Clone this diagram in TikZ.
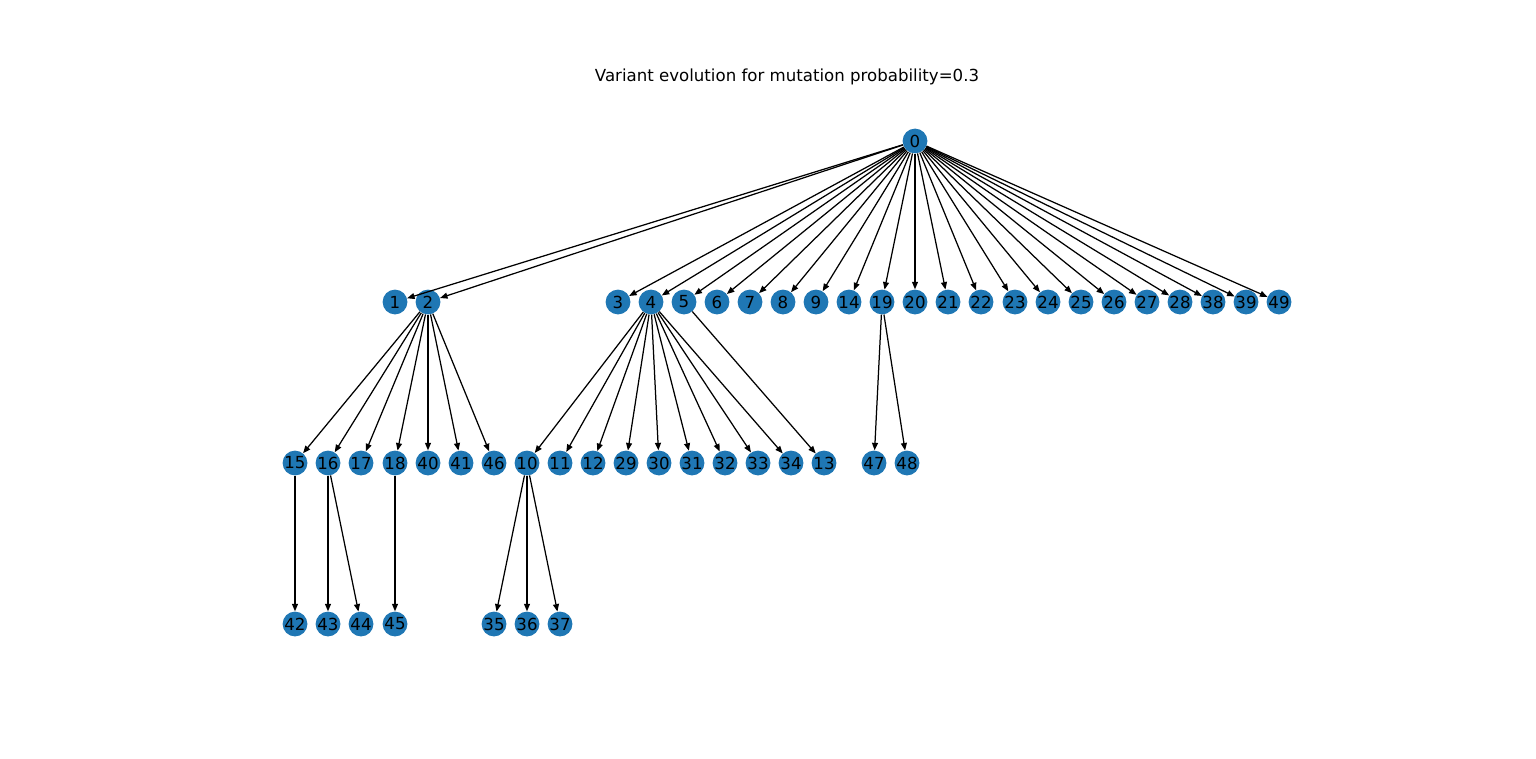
\documentclass[tikz,border=0pt]{standalone}
\usepackage{fontspec}
\setmainfont{DejaVu Sans}
\usetikzlibrary{arrows.meta}
\definecolor{tabblue}{HTML}{1F77B4}
\begin{document}
\begin{tikzpicture}[x=0.254mm, y=-0.254mm,
        font=\fontsize{12}{14}\selectfont,
        vnode/.style={circle, fill=tabblue, minimum size=6.3mm, inner sep=0pt},
        edge/.style={-{Triangle[length=1.9mm,width=1.5mm]}, line width=0.9pt}]
        \useasboundingbox (0,0) rectangle (1536,759);
        \node (title) at (787,77) {Variant evolution for mutation probability=0.3};

        \node[vnode] (v0) at (915,141) {0};
        \foreach \n/\x in {1/395,2/428,3/618,4/651,5/684,6/717,7/750,8/783,9/816,
        14/849,19/882,20/915,21/948,22/981,23/1015,24/1048,25/1081,26/1114,
        27/1147,28/1180,38/1213,39/1246,49/1279}
            \node[vnode] (v\n) at (\x,302) {\n};
        \foreach \n/\x in {15/295,16/328,17/361,18/395,40/428,41/461,46/494,
        10/527,11/560,12/593,29/626,30/659,31/692,32/725,33/758,34/791,13/824,
        47/874,48/907}
            \node[vnode] (v\n) at (\x,463) {\n};
        \foreach \n/\x in {42/295,43/328,44/361,45/395,35/494,36/527,37/560}
            \node[vnode] (v\n) at (\x,624) {\n};

        \foreach \a/\b in {0/1,0/2,0/3,0/4,0/5,0/6,0/7,0/8,0/9,0/14,0/19,0/20,
        0/21,0/22,0/23,0/24,0/25,0/26,0/27,0/28,0/38,0/39,0/49,
        2/15,2/16,2/17,2/18,2/40,2/41,2/46,
        4/10,4/11,4/12,4/29,4/30,4/31,4/32,4/33,4/34,5/13,19/47,19/48,
        15/42,16/43,16/44,18/45,10/35,10/36,10/37}
            \draw[edge] (v\a) -- (v\b);
    \end{tikzpicture}
\end{document}
